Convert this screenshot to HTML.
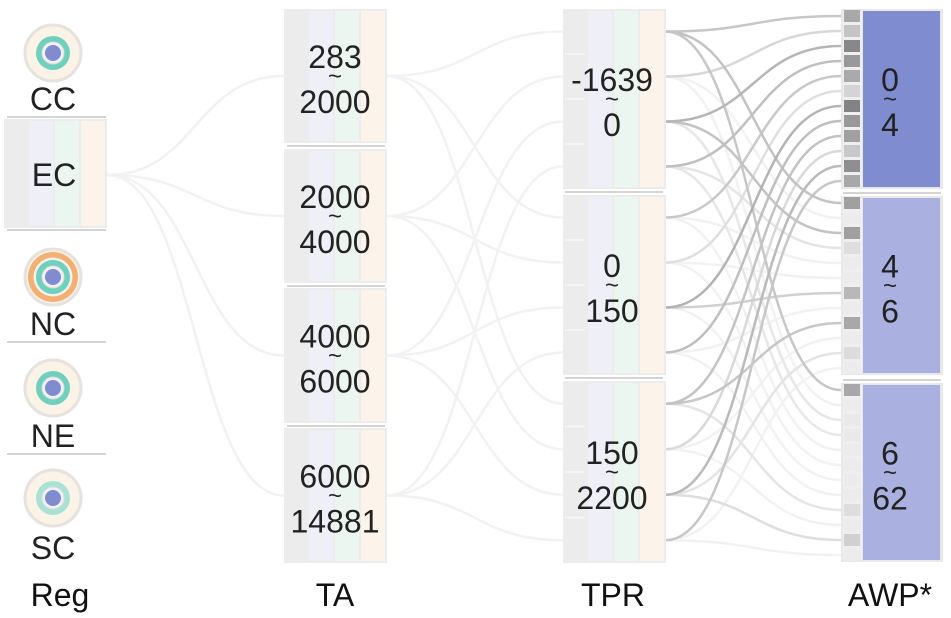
<!DOCTYPE html>
<html><head><meta charset="utf-8"><style>
html,body{margin:0;padding:0;background:#fff;}
svg{display:block;font-family:"Liberation Sans",sans-serif;}
</style></head><body>
<svg id="chart" width="951" height="618" viewBox="0 0 951 618" xmlns="http://www.w3.org/2000/svg"></svg>
<script>
const regions = ["CC","EC","NC","NE","SC"];
const taLabels = [["283","2000"],["2000","4000"],["4000","6000"],["6000","14881"]];
const tprLabels = [["-1639","0"],["0","150"],["150","2200"]];
const awpLabels = [["0","4"],["4","6"],["6","62"]];
const axisTitles = ["Reg","TA","TPR","AWP*"];
// link strength per AWP box, slot index = tprBox*4 + taIndex
const awpBox0 = [6.4,3.8,9.3,7.7,6.2,2.4,9.7,7.7,7.1,3.5,8.6,6.4];
const awpBox1 = [7.1,0,7.1,1.5,0,0,4.9,0,6.4,0,1.6,0];
const awpBox2 = [6.4,0,0.5,0.5,0,0,0,0,1.5,0,2.7,0];
const awpValues = [awpBox0, awpBox1, awpBox2];

const NS="http://www.w3.org/2000/svg";
const svg=document.getElementById('chart');
function mk(tag, attrs, parent){const e=document.createElementNS(NS,tag);for(const k in attrs)e.setAttribute(k,attrs[k]);(parent||svg).appendChild(e);return e;}
function gray(v){const g=Math.round(238-v*11);return `rgb(${g},${g},${g})`;}
function curve(x1,y1,x2,y2){const m=(x1+x2)/2;return `M${x1},${y1}C${m},${y1} ${m},${y2} ${x2},${y2}`;}

const taBoxes=[[9,143],[149,283],[288,423],[428,563]];
const tprBoxes=[[9,189],[195,375],[381,563]];
const awpBoxes=[[9,189],[196,375],[383,562]];
const tprSlot=(b,i)=>{const [t,bt]=tprBoxes[b];const h=(bt-t)/4;return t+h*(i+0.5);};
const awpSlot=(b,j)=>awpBoxes[b][0]+7+j*15;

const linkLayer=mk('g',{});



// EC -> TA
taBoxes.forEach((b,i)=>{
  const p=mk('path',{d:curve(107,175,284,(b[0]+b[1])/2),fill:'none',stroke:'#f2f2f2','stroke-width':2.5},linkLayer);
  
  
});
// TA -> TPR
taBoxes.forEach((b,i)=>{
  for(let k=0;k<3;k++){
    const p=mk('path',{d:curve(387,(b[0]+b[1])/2,563,tprSlot(k,i)),fill:'none',stroke:'#f2f2f2','stroke-width':2.5},linkLayer);
    
    
  }
});
// TPR -> AWP (draw lighter first)
const tl=[];
awpValues.forEach((vals,ab)=>vals.forEach((v,j)=>tl.push({ab,j,v})));
tl.sort((a,b)=>a.v-b.v);
tl.forEach(o=>{
  const tb=Math.floor(o.j/4), ta=o.j%4;
  const c=o.v===0?'#f2f2f2':gray(Math.max(0.6,o.v*0.55));
  const p=mk('path',{d:curve(665,tprSlot(tb,ta),841,awpSlot(o.ab,o.j)),fill:'none',stroke:c,'stroke-width':2.5},linkLayer);
  
  
});

const stripeCols=['#ececec','#efeff8','#ebf6f1','#fcf4ea'];
function stripedBox(x,t,b,name,divs){
  const g=mk('g',{});
  
  
  mk('rect',{x:x,y:t,width:103,height:b-t,fill:'#ececec'},g);
  const xs=[[x+2,22],[x+25,24],[x+51,24],[x+77,24]];
  xs.forEach((s,i)=>mk('rect',{x:s[0],y:t+2,width:s[1],height:b-t-4,fill:stripeCols[i]},g));
  if(divs){for(let i=1;i<4;i++){const yy=t+(b-t)/4*i;mk('line',{x1:x+2,x2:x+22,y1:yy,y2:yy,stroke:'#f7f7f7','stroke-width':1.5},g);}}
  return g;
}
function twoLine(cx,c,lab,g){
  mk('text',{x:cx,y:c-8,'text-anchor':'middle','font-size':32,fill:'#222'},g).textContent=lab[0];
  mk('text',{x:cx,y:c+8,'text-anchor':'middle','font-size':24,fill:'#222'},g).textContent='~';
  mk('text',{x:cx,y:c+37,'text-anchor':'middle','font-size':32,fill:'#222'},g).textContent=lab[1];
}
function sep(x1,x2,y){const l=mk('line',{x1,x2,y1:y,y2:y,stroke:'#aaa','stroke-width':1});}

// Region column
const circ=[{n:'CC',cy:53,ly:110,outer:'#fbf2e8',ring:'#6fd0bd'},{n:'NC',cy:277,ly:335,outer:'#f2b074',ring:'#6fd0bd'},{n:'NE',cy:388,ly:447,outer:'#fbf2e8',ring:'#6fd0bd'},{n:'SC',cy:498,ly:559,outer:'#fbf2e8',ring:'#a8e2d5'}];
circ.forEach(c=>{
  const g=mk('g',{});
  
  
  mk('circle',{cx:53,cy:c.cy,r:28,fill:'#fbf2e8',stroke:'#e6e2de','stroke-width':3},g);
  if(c.outer!=='#fbf2e8'){mk('circle',{cx:53,cy:c.cy,r:25,fill:c.outer},g);mk('circle',{cx:53,cy:c.cy,r:19.5,fill:'#f4f0ec'},g);}
  mk('circle',{cx:53,cy:c.cy,r:17,fill:c.ring},g);
  mk('circle',{cx:53,cy:c.cy,r:11,fill:'#f2f2f6',stroke:'#ddd','stroke-width':1},g);
  mk('circle',{cx:53,cy:c.cy,r:8,fill:'#7f8ccf'},g);
  mk('text',{x:53,y:c.ly,'text-anchor':'middle','font-size':32,fill:'#222'},g).textContent=c.n;
});
const ec=stripedBox(4,119,228,'region-ec',false);
mk('text',{x:54,y:186,'text-anchor':'middle','font-size':32,fill:'#222'},ec).textContent=regions[1];
[117,230,342,454].forEach(y=>sep(7,106,y));

// TA column
taBoxes.forEach((b,i)=>{const g=stripedBox(284,b[0],b[1],'ta-node-'+i,false);twoLine(335,(b[0]+b[1])/2,taLabels[i],g);});
[146,286,426].forEach(y=>sep(287,385,y));
// TPR column
tprBoxes.forEach((b,i)=>{const g=stripedBox(563,b[0],b[1],'tpr-node-'+i,true);twoLine(612,(b[0]+b[1])/2,tprLabels[i],g);});
[192,378].forEach(y=>sep(565,663,y));
// AWP column
const awpFill=['#7f8ccf','#aab0df','#aab0df'];
awpBoxes.forEach((b,i)=>{
  const g=mk('g',{});
  
  
  mk('rect',{x:841,y:b[0],width:102,height:b[1]-b[0],fill:'#e8e8e8'},g);
  mk('rect',{x:843,y:b[0]+2,width:19,height:b[1]-b[0]-4,fill:'#efefef'},g);
  mk('rect',{x:863,y:b[0]+2,width:77,height:b[1]-b[0]-4,fill:awpFill[i]},g);
  awpValues[i].forEach((v,j)=>{
    const s=mk('rect',{x:844,y:awpSlot(i,j)-6,width:16,height:12,fill:v===0?'#ececec':gray(v)},g);
    
    
  });
  twoLine(890,(b[0]+b[1])/2,awpLabels[i],g);
});
[193,380].forEach(y=>sep(843,941,y));

// Axis titles
[[60,axisTitles[0]],[335,axisTitles[1]],[613,axisTitles[2]],[890,axisTitles[3]]].forEach((a,i)=>{
  const t=mk('text',{x:a[0],y:606,'text-anchor':'middle','font-size':32,fill:'#111'});
  t.textContent=a[1];
  
  
});
</script>
</body></html>
